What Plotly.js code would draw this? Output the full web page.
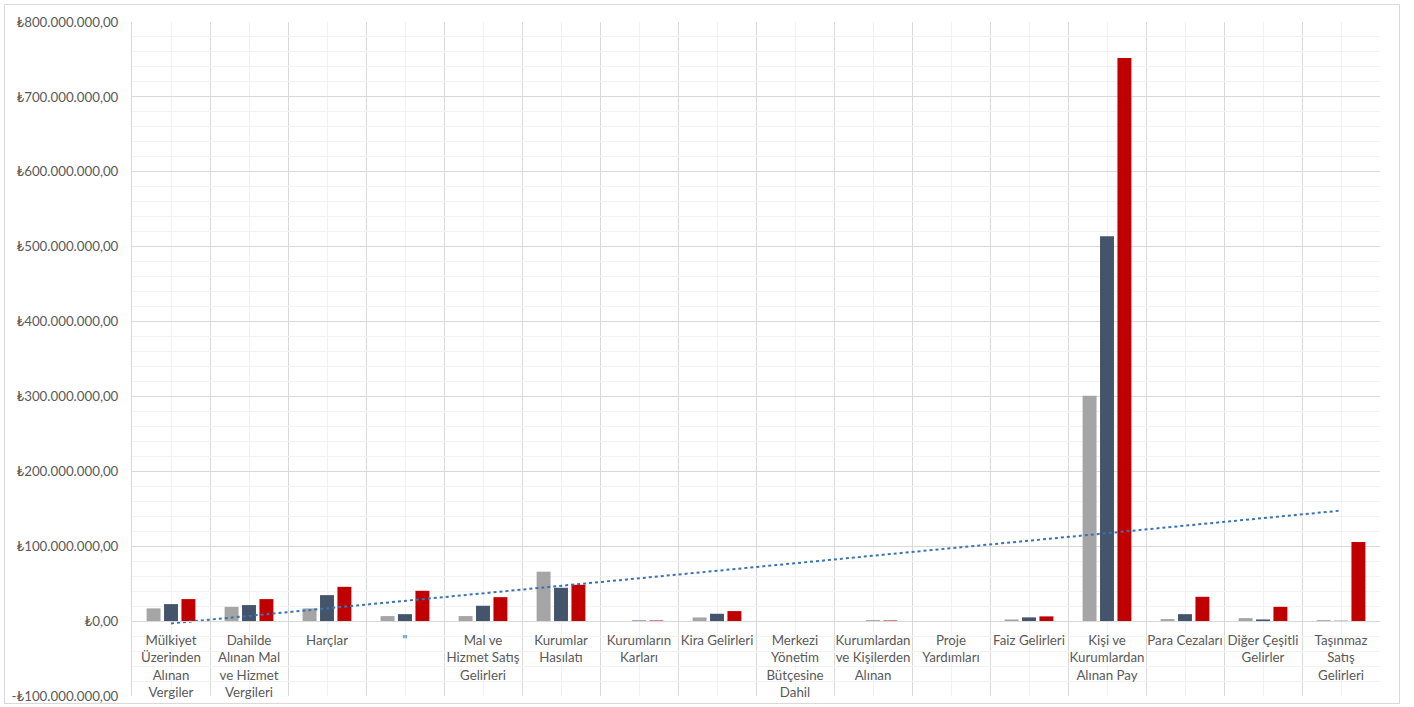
<!DOCTYPE html>
<html>
<head>
<meta charset="utf-8">
<script src="https://cdn.plot.ly/plotly-3.0.1.min.js"></script>
<style>
  html, body { margin: 0; padding: 0; background: #ffffff; }
  #chart { width: 1414px; height: 707px; }
  #frame { position: absolute; left: 4px; top: 4px; width: 1394px; height: 698px; border: 1px solid #d9d9d9; pointer-events: none; }
</style>
</head>
<body>
<div id="chart"></div>
<div id="frame"></div>
<script>
// Categories (x axis)
const categories = [
  "Mülkiyet<br>Üzerinden<br>Alınan<br>Vergiler",
  "Dahilde<br>Alınan Mal<br>ve Hizmet<br>Vergileri",
  "Harçlar",
  "\"",
  "Mal ve<br>Hizmet Satış<br>Gelirleri",
  "Kurumlar<br>Hasılatı",
  "Kurumların<br>Karları",
  "Kira Gelirleri",
  "Merkezi<br>Yönetim<br>Bütçesine<br>Dahil",
  "Kurumlardan<br>ve Kişilerden<br>Alınan",
  "Proje<br>Yardımları",
  "Faiz Gelirleri",
  "Kişi ve<br>Kurumlardan<br>Alınan Pay",
  "Para Cezaları",
  "Diğer Çeşitli<br>Gelirler",
  "Taşınmaz<br>Satış<br>Gelirleri"
];

// Series values (TL)
const seriesGray = [17.0e6, 19.0e6, 17.0e6, 6.7e6, 6.7e6, 66.0e6, 0.0e6, 4.9e6, 0, 0.0e6, 0, 2.2e6, 301.0e6, 2.7e6, 4.0e6, 1.3e6];
const seriesDark = [22.7e6, 21.4e6, 34.7e6, 9.3e6, 20.5e6, 44.5e6, 0.8e6, 9.8e6, 0, 0.8e6, 0, 5.0e6, 514.0e6, 9.3e6, 2.2e6, 0.5e6];
const seriesRed  = [29.4e6, 29.4e6, 45.8e6, 40.5e6, 32.0e6, 48.5e6, 0.8e6, 13.4e6, 0, 0.8e6, 0, 6.3e6, 752.0e6, 32.5e6, 19.1e6, 105.5e6];

// Y tick values and labels
const yTickVals = [-100e6, 0, 100e6, 200e6, 300e6, 400e6, 500e6, 600e6, 700e6, 800e6];
const yTickText = ["-₺100.000.000,00", "₺0,00", "₺100.000.000,00", "₺200.000.000,00", "₺300.000.000,00",
                   "₺400.000.000,00", "₺500.000.000,00", "₺600.000.000,00", "₺700.000.000,00", "₺800.000.000,00"];

const idx = categories.map((_, i) => i);

// Linear trendline (least squares) of the red series
function linFit(xs, ys) {
  const n = xs.length;
  const mx = xs.reduce((a, b) => a + b, 0) / n;
  const my = ys.reduce((a, b) => a + b, 0) / n;
  let sxy = 0, sxx = 0;
  for (let i = 0; i < n; i++) { sxy += (xs[i] - mx) * (ys[i] - my); sxx += (xs[i] - mx) ** 2; }
  const b = sxy / sxx;
  return { a: my - b * mx, b: b };
}
const fit = linFit(idx, seriesRed);
const trendX = [idx[0], idx[idx.length - 1]];
const trendY = trendX.map(x => fit.a + fit.b * x);

const barCommon = { type: "bar", x: idx, hoverinfo: "skip" };
const traces = [
  Object.assign({}, barCommon, { y: seriesGray, marker: { color: "#a5a5a5", line: { width: 0 } }, name: "S1" }),
  Object.assign({}, barCommon, { y: seriesDark, marker: { color: "#44546a", line: { width: 0 } }, name: "S2" }),
  Object.assign({}, barCommon, { y: seriesRed,  marker: { color: "#c00000", line: { width: 0 } }, name: "S3" }),
  { type: "scatter", mode: "lines", x: trendX, y: trendY, line: { color: "#3a73b5", width: 2, dash: "dot" }, hoverinfo: "skip", name: "trend" }
];

const FONT = "Lato, Carlito, 'Open Sans', sans-serif";
const layout = {
  width: 1414, height: 707,
  margin: { l: 132, r: 34, t: 22, b: 11, pad: 0 },
  paper_bgcolor: "#ffffff", plot_bgcolor: "#ffffff",
  showlegend: false,
  hovermode: false,
  barmode: "group",
  bargap: 0.33,
  bargroupgap: 0.2,
  font: { family: FONT, size: 13.3, color: "#595959" },
  xaxis: {
    range: [-0.5, 15.5],
    tickmode: "array", tickvals: idx, ticktext: categories,
    anchor: "free", position: 100 / 900,
    showline: true, linecolor: "#d9d9d9", linewidth: 1,
    ticks: "", ticklabelstandoff: 7,
    showgrid: true, gridcolor: "#f2f2f2", gridwidth: 1,
    minor: { tickmode: "linear", tick0: 0.5, dtick: 1, showgrid: true, gridcolor: "#d9d9d9", gridwidth: 1, ticks: "" },
    zeroline: false, fixedrange: true,
    tickfont: { family: FONT, size: 13.3, color: "#595959" }
  },
  yaxis: {
    range: [-100e6, 800e6],
    tickmode: "array", tickvals: yTickVals, ticktext: yTickText,
    showgrid: true, gridcolor: "#d9d9d9", gridwidth: 1,
    minor: { tickmode: "linear", tick0: 0, dtick: 20e6, showgrid: true, gridcolor: "#f2f2f2", gridwidth: 1, ticks: "" },
    zeroline: true, zerolinecolor: "#d9d9d9", zerolinewidth: 1,
    showline: true, linecolor: "#d9d9d9",
    ticks: "", ticklabelstandoff: 10,
    fixedrange: true,
    tickfont: { family: FONT, size: 13.3, color: "#595959" }
  }
};

Plotly.newPlot("chart", traces, layout, { displayModeBar: false, staticPlot: true });
</script>
</body>
</html>
